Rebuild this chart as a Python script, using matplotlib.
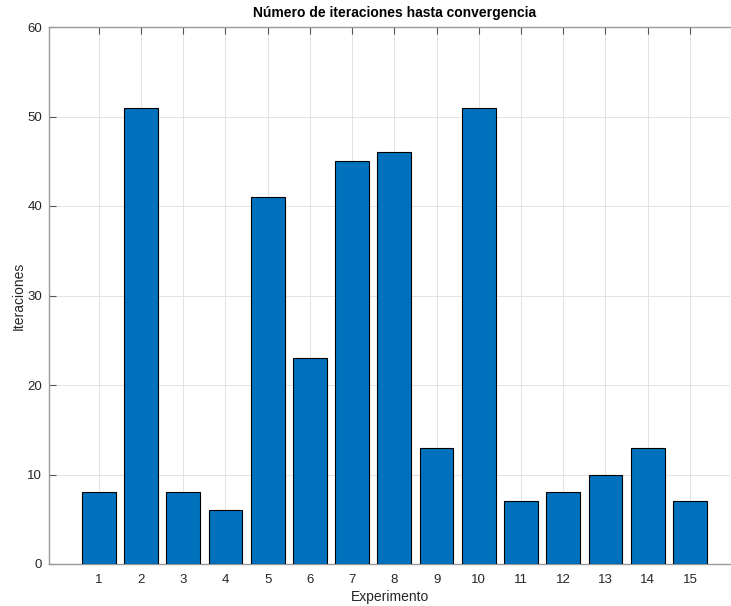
import matplotlib
matplotlib.use("Agg")
import matplotlib.pyplot as plt

experimentos = list(range(1, 16))
iteraciones = [8, 51, 8, 6, 41, 23, 45, 46, 13, 51, 7, 8, 10, 13, 7]
yticks = [0, 10, 20, 30, 40, 50, 60]

plt.rcParams['font.family'] = ['Liberation Sans', 'DejaVu Sans']

fig = plt.figure(figsize=(7.31, 6.06), dpi=100)
ax = fig.add_axes([49/731, 42/606, 681/731, 537/606])

ax.bar(experimentos, iteraciones, width=0.8, color='#0072BD',
       edgecolor='black', linewidth=0.8, zorder=3)

ax.set_xlim(-0.18, 15.95)
ax.set_ylim(0, 60)
ax.set_xticks(experimentos)
ax.set_yticks(yticks)
ax.grid(True, color='#e3e3e3', linewidth=0.7, zorder=0)
ax.set_axisbelow(True)

for s in ['left', 'bottom', 'top']:
    ax.spines[s].set_color('#9a9a9a')
    ax.spines[s].set_linewidth(1.0)
ax.spines['right'].set_visible(False)

ax.tick_params(direction='in', length=5, color='#555555', labelsize=9.5,
               labelcolor='#262626', top=True)
ax.tick_params(axis='x', pad=7)
ax.tick_params(axis='y', pad=5)

ax.set_xlabel('Experimento', fontsize=10, color='#262626', labelpad=3)
ax.set_ylabel('Iteraciones', fontsize=10, color='#262626', labelpad=1)
ax.set_title('Número de iteraciones hasta convergencia', fontsize=10,
             fontweight='bold', color='black', pad=7, x=0.508)

fig.savefig('out.png', dpi=100)
